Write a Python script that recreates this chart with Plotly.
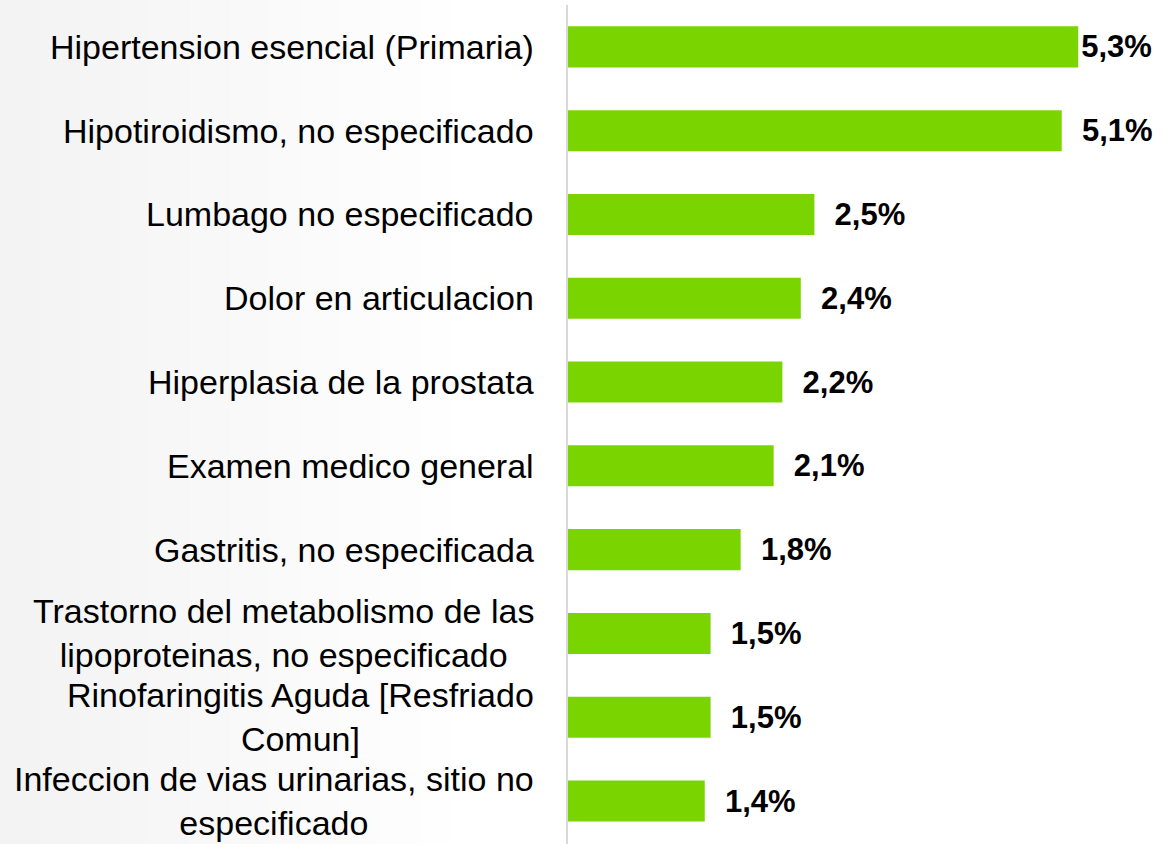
import plotly.graph_objects as go

# diagnoses, top to bottom
categories = [
    "Hipertension esencial (Primaria)",
    "Hipotiroidismo, no especificado",
    "Lumbago no especificado",
    "Dolor en articulacion",
    "Hiperplasia de la prostata",
    "Examen medico general",
    "Gastritis, no especificada",
    "Trastorno del metabolismo de las<br>lipoproteinas, no especificado",
    "Rinofaringitis Aguda [Resfriado<br>Comun]",
    "Infeccion de vias urinarias, sitio no<br>especificado",
]
values = [5.26, 5.09, 2.54, 2.40, 2.21, 2.12, 1.78, 1.47, 1.47, 1.41]
value_labels = ["5,3%", "5,1%", "2,5%", "2,4%", "2,2%", "2,1%", "1,8%", "1,5%", "1,5%", "1,4%"]

W, H = 1163, 844
x0 = 568  # left edge of plot area in px

fig = go.Figure()

fig.add_trace(go.Bar(
    x=values,
    y=categories,
    orientation="h",
    marker=dict(color="#7AD400", line=dict(width=0)),
    width=0.49,
    text=[t if i == 0 else "  " + t for i, t in enumerate(value_labels)],
    textposition="outside",
    textfont=dict(family="Liberation Sans, Arial", size=31, color="#000000", weight="bold"),
    constraintext="none",
    cliponaxis=False,
    hoverinfo="skip",
))

# category labels as annotations so wrapped lines stay centred
for c in categories:
    fig.add_annotation(
        x=536 / W, xref="paper", xanchor="right",
        y=c, yref="y", yanchor="middle",
        text=c, showarrow=False, align="center",
        font=dict(family="Liberation Sans, Arial", size=34, color="#000000"),
    )

# soft grey fade on the left side of the page
n = 45
for i in range(n):
    g = int(243 + (255 - 243) * i / n)
    fig.add_shape(
        type="rect", xref="paper", yref="paper",
        x0=i * 10 / W, x1=(i + 1) * 10 / W + 0.001, y0=-0.01, y1=1.01,
        fillcolor=f"rgb({g},{g},{g})", line=dict(width=0), layer="below",
    )

fig.update_layout(
    width=W, height=H,
    margin=dict(l=0, r=0, t=5, b=0),
    paper_bgcolor="#FFFFFF",
    plot_bgcolor="rgba(0,0,0,0)",
    showlegend=False,
    xaxis=dict(domain=[x0 / W, 1], range=[0, (W - x0) / 97.0],
               visible=False, fixedrange=True),
    yaxis=dict(categoryorder="array", categoryarray=categories, autorange="reversed",
               showticklabels=False, showgrid=False, zeroline=False, ticks="",
               showline=True, linecolor="#D9D9D9", linewidth=2, fixedrange=True),
)

fig.write_html("out.html", config={"displayModeBar": False},
               post_script="document.body.style.margin='0';")
